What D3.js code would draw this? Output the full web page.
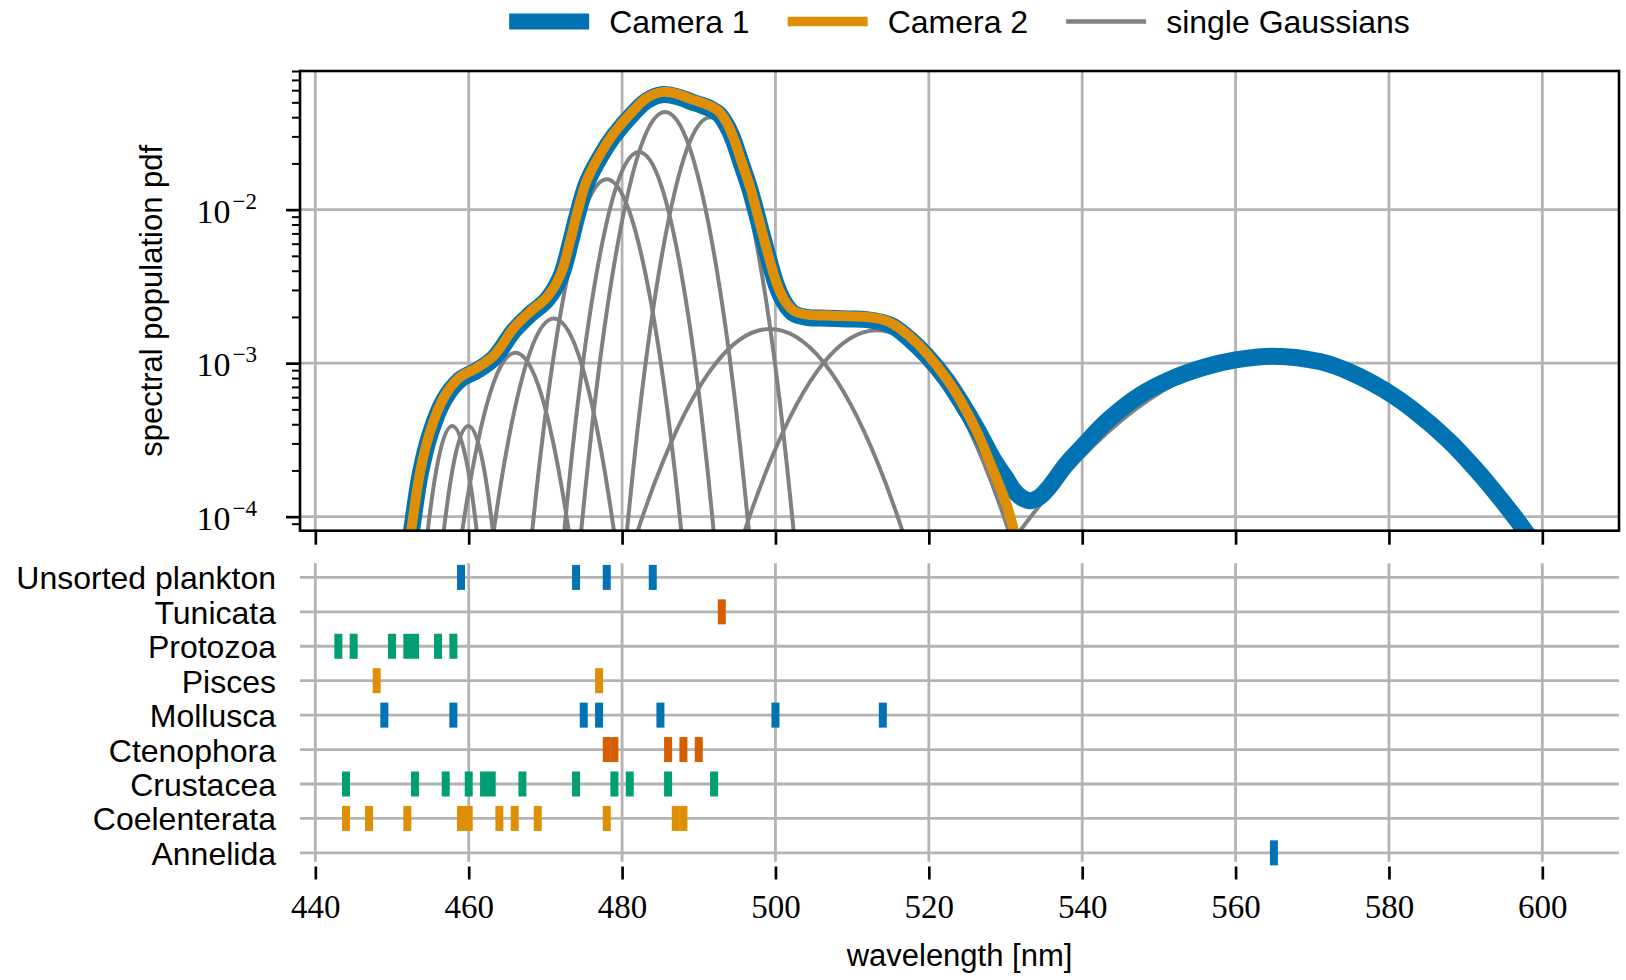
<!DOCTYPE html>
<html>
<head>
<meta charset="utf-8">
<script src="https://cdn.jsdelivr.net/npm/d3@7"></script>
<style>
  body { margin: 0; background: #fff; }
  text { font-family: "Liberation Sans", Arial, Helvetica, sans-serif; fill: #000; }
</style>
</head>
<body>
<script>
// spectral population pdf (wavelength in nm)
var camera1Nm = [451.6, 452.5, 453.7, 455.0, 456.8, 458.9, 461.1, 463.3, 465.9, 468.0, 470.2, 472.0, 473.3, 474.1,
  475.4, 477.2, 478.9, 481.5, 483.3, 485.4, 487.6, 489.0, 490.2, 491.5, 492.6, 493.6, 494.5, 495.6, 496.7, 498.45,
  500.2, 501.3, 502.4, 504.0, 506.7, 509.5, 511.9, 513.8, 515.4, 517.6, 519.7, 522.3, 524.1, 526.3, 528.4, 530.0,
  531.1, 532.2, 533.3, 534.5, 535.8, 537.9, 540.0, 543.4, 547.5, 551.75, 556.0, 560.0, 565.0, 571.1, 575.0, 579.4,
  583.5, 587.7, 591.0, 593.25, 596.85, 598.5, 600.0];
var camera1Pdf = [3.83e-5, 7.82e-5, 1.92e-4, 3.49e-4, 5.79e-4, 7.82e-4, 8.97e-4, 1.08e-3, 1.63e-3, 2.08e-3, 2.59e-3, 3.66e-3, 6.21e-3, 8.97e-3,
  1.49e-2, 2.23e-2, 3.01e-2, 4.27e-2, 5.16e-2, 5.62e-2, 5.37e-2, 5.05e-2, 4.82e-2, 4.55e-2, 4.20e-2, 3.57e-2, 2.85e-2, 1.96e-2, 1.34e-2, 6.35e-3,
  3.15e-3, 2.42e-3, 2.10e-3, 1.99e-3, 1.96e-3, 1.94e-3, 1.92e-3, 1.85e-3, 1.73e-3, 1.42e-3, 1.12e-3, 7.80e-4, 5.69e-4, 3.72e-4, 2.37e-4, 1.80e-4,
  1.48e-4, 1.32e-4, 1.27e-4, 1.35e-4, 1.58e-4, 2.19e-4, 2.85e-4, 4.27e-4, 6.17e-4, 7.94e-4, 9.44e-4, 1.05e-3, 1.11e-3, 1.02e-3, 8.71e-4, 6.68e-4,
  4.81e-4, 3.16e-4, 2.12e-4, 1.57e-4, 9.29e-5, 7.13e-5, 5.55e-5];

var camera2Nm = [451.6, 452.5, 453.7, 455.0, 456.8, 458.9, 461.1, 463.3, 465.9, 468.0, 470.2, 472.0, 473.3, 474.1,
  475.4, 477.2, 478.9, 481.5, 483.3, 485.4, 487.6, 489.0, 490.2, 491.5, 492.6, 493.6, 494.5, 495.6, 496.7, 498.45,
  500.2, 501.3, 502.4, 504.0, 506.7, 509.5, 511.9, 513.8, 515.4, 517.6, 519.7, 522.3, 524.1, 526.3, 528.4, 530.0,
  531.1, 532.0];
var camera2Pdf = [3.98e-5, 8.13e-5, 2.0e-4, 3.63e-4, 6.03e-4, 8.13e-4, 9.33e-4, 1.12e-3, 1.70e-3, 2.16e-3, 2.69e-3, 3.80e-3, 6.46e-3, 9.33e-3,
  1.55e-2, 2.32e-2, 3.13e-2, 4.44e-2, 5.37e-2, 5.85e-2, 5.58e-2, 5.25e-2, 5.01e-2, 4.73e-2, 4.37e-2, 3.72e-2, 2.96e-2, 2.04e-2, 1.40e-2, 6.61e-3,
  3.27e-3, 2.51e-3, 2.19e-3, 2.07e-3, 2.04e-3, 2.02e-3, 2.0e-3, 1.93e-3, 1.79e-3, 1.48e-3, 1.16e-3, 7.94e-4, 5.75e-4, 3.55e-4, 2.0e-4, 1.26e-4,
  8.13e-5, 5.25e-5];

// single gaussian components, [nm, pdf]
var gauss1 = [[450.65, 1.3e-7], [452.45, 4.3e-6], [454.25, 5.3e-5], [456.05, 2.37e-4], [457.85, 3.9e-4], [459.65, 2.37e-4], [461.45, 5.3e-5], [463.25, 4.3e-6], [465.05, 1.3e-7]];
var gauss2 = [[452.75, 1.3e-7], [454.55, 4.3e-6], [456.35, 5.3e-5], [458.15, 2.37e-4], [459.95, 3.9e-4], [461.75, 2.37e-4], [463.55, 5.3e-5], [465.35, 4.3e-6], [467.15, 1.3e-7]];
var gauss3 = [[454.1, 3.9e-7], [457.1, 1.3e-5], [460.1, 1.58e-4], [463.1, 7.1e-4], [466.1, 1.17e-3], [469.1, 7.1e-4], [472.1, 1.58e-4], [475.1, 1.3e-5], [478.1, 3.9e-7]];
var gauss4 = [[458.7, 6.5e-7], [461.8, 2.16e-5], [464.9, 2.64e-4], [468.0, 1.18e-3], [471.1, 1.95e-3], [474.2, 1.18e-3], [477.3, 2.64e-4], [480.4, 2.16e-5], [483.5, 6.5e-7]];
var gauss5 = [[466.0, 5.3e-6], [469.0, 1.75e-4], [472.0, 2.14e-3], [475.0, 9.58e-3], [478.0, 1.58e-2], [481.0, 9.58e-3], [484.0, 2.14e-3], [487.0, 1.75e-4], [490.0, 5.3e-6]];
var gauss6 = [[470.6, 7.9e-6], [473.5, 2.63e-4], [476.4, 3.21e-3], [479.3, 1.44e-2], [482.2, 2.37e-2], [485.1, 1.44e-2], [488.0, 3.21e-3], [490.9, 2.63e-4], [493.8, 7.9e-6]];
var gauss7 = [[473.2, 1.45e-5], [476.3, 4.8e-4], [479.4, 5.85e-3], [482.5, 2.62e-2], [485.6, 4.32e-2], [488.7, 2.62e-2], [491.8, 5.85e-3], [494.9, 4.8e-4], [498.0, 1.45e-5]];
var gauss8 = [[479.1, 1.34e-5], [482.2, 4.44e-4], [485.3, 5.41e-3], [488.4, 2.43e-2], [491.5, 4.0e-2], [494.6, 2.43e-2], [497.7, 5.41e-3], [500.8, 4.44e-4], [503.9, 1.34e-5]];
var gauss9 = [[471.3, 5.6e-7], [478.3, 1.85e-5], [485.3, 2.26e-4], [492.3, 1.01e-3], [499.3, 1.67e-3], [506.3, 1.01e-3], [513.3, 2.26e-4], [520.3, 1.85e-5], [527.3, 5.6e-7]];
var gauss10 = [[485.2, 5.5e-7], [492.2, 1.82e-5], [499.2, 2.22e-4], [506.2, 9.95e-4], [513.2, 1.64e-3], [520.2, 9.95e-4], [527.2, 2.22e-4], [534.2, 1.82e-5], [541.2, 5.5e-7]];
var gauss11 = [[507.0, 3.65e-7], [521.5, 1.21e-5], [536.0, 1.47e-4], [550.5, 6.61e-4], [565.0, 1.09e-3], [579.5, 6.61e-4], [594.0, 1.47e-4], [608.5, 1.21e-5], [623.0, 3.65e-7]];
var gaussians = [gauss1, gauss2, gauss3, gauss4, gauss5, gauss6, gauss7, gauss8, gauss9, gauss10, gauss11];

// observed taxa, bottom row first, with the wavelength [nm] of each event
var categories = ["Annelida", "Coelenterata", "Crustacea", "Ctenophora", "Mollusca", "Pisces", "Protozoa", "Tunicata", "Unsorted plankton"];
var annelida = [565];
var coelenterata = [444, 447, 452, 459, 460, 464, 466, 469, 478, 487, 488];
var crustacea = [444, 453, 457, 460, 462, 463, 467, 474, 479, 481, 486, 492];
var ctenophora = [478, 479, 486, 488, 490];
var mollusca = [449, 458, 475, 477, 485, 500, 514];
var pisces = [448, 477];
var protozoa = [443, 445, 450, 452, 453, 456, 458];
var tunicata = [493];
var unsorted = [459, 474, 478, 484];
var events = [annelida, coelenterata, crustacea, ctenophora, mollusca, pisces, protozoa, tunicata, unsorted];

var xTicks = [440, 460, 480, 500, 520, 540, 560, 580, 600];
var yMajorTicks = [1e-4, 1e-3, 1e-2];
var legendLabels = ["Camera 1", "Camera 2", "single Gaussians"];

var palette = ["#0173b2", "#de8f05", "#029e73", "#d55e00"];
var gridColor = "#b3b3b3";

var width = 1626, height = 980;
var plot = {left: 300, right: 1619, top: 71, bottom: 530.7};
var rug = {top: 563.3, bottom: 861.8, axis: 866.5};

var svg = d3.select("body").append("svg")
    .attr("width", width)
    .attr("height", height)
    .style("display", "block")
    .style("background", "#fff");

var x = d3.scaleLinear().domain([438, 610]).range([plot.left, plot.right]);
var y = d3.scaleLog().domain([8.1e-5, 0.08]).range([plot.bottom, plot.top]);
var yRow = d3.scaleLinear().domain([-0.26, 8.41]).range([rug.bottom, rug.top]);

// ---------- top panel ----------
var grid = svg.append("g").attr("stroke", gridColor).attr("stroke-width", 2.8);
grid.selectAll(".vgrid").data(xTicks).enter().append("line")
    .attr("x1", d => x(d)).attr("x2", d => x(d))
    .attr("y1", plot.top).attr("y2", plot.bottom);
grid.selectAll(".hgrid").data(yMajorTicks).enter().append("line")
    .attr("x1", plot.left).attr("x2", plot.right)
    .attr("y1", d => y(d)).attr("y2", d => y(d));

svg.append("clipPath").attr("id", "clip")
  .append("rect")
    .attr("x", plot.left).attr("y", plot.top)
    .attr("width", plot.right - plot.left).attr("height", plot.bottom - plot.top);

var curves = svg.append("g").attr("clip-path", "url(#clip)");

var line = d3.line()
    .x(d => x(d[0]))
    .y(d => y(d[1]))
    .curve(d3.curveNatural);

var camLine = d3.line()
    .x(d => x(d[0]))
    .y(d => y(d[1]))
    .curve(d3.curveCatmullRom.alpha(0.5));

curves.selectAll(".gauss").data(gaussians).enter().append("path")
    .attr("class", "gauss")
    .attr("d", line)
    .attr("fill", "none")
    .attr("stroke", "#808080")
    .attr("stroke-width", 4);

curves.append("path")
    .attr("d", camLine(d3.zip(camera1Nm, camera1Pdf)))
    .attr("fill", "none")
    .attr("stroke", palette[0])
    .attr("stroke-width", 17)
    .attr("stroke-linejoin", "round");

curves.append("path")
    .attr("d", camLine(d3.zip(camera2Nm, camera2Pdf)))
    .attr("fill", "none")
    .attr("stroke", palette[1])
    .attr("stroke-width", 10)
    .attr("stroke-linejoin", "round");

// axes of the top panel
var xTop = svg.append("g")
    .attr("transform", "translate(0," + plot.bottom + ")")
    .call(d3.axisBottom(x).tickValues(xTicks).tickSize(14).tickFormat(""));
xTop.select(".domain").remove();
xTop.selectAll("line").attr("stroke-width", 2.7);

var minorTicks = y.ticks().filter(d => Math.abs(Math.log10(d) - Math.round(Math.log10(d))) > 1e-6);
var yMinor = svg.append("g")
    .attr("transform", "translate(" + plot.left + ",0)")
    .call(d3.axisLeft(y).tickValues(minorTicks).tickSize(8).tickFormat(""));
yMinor.select(".domain").remove();
yMinor.selectAll("line").attr("stroke-width", 2);

var yMajor = svg.append("g")
    .attr("transform", "translate(" + plot.left + ",0)")
    .call(d3.axisLeft(y).tickValues(yMajorTicks).tickSize(14).tickFormat(""));
yMajor.select(".domain").remove();
yMajor.selectAll("line").attr("stroke-width", 2.7);

var yLab = yMajor.selectAll(".tick").append("text")
    .attr("x", -43)
    .attr("y", 12.5)
    .attr("text-anchor", "end")
    .style("font-family", "'Liberation Serif', 'Times New Roman', serif")
    .style("font-size", "34px");
yLab.append("tspan").text("10");
yLab.append("tspan")
    .attr("dx", 2)
    .attr("dy", -14)
    .style("font-size", "23px")
    .text(d => "\u2212" + Math.round(-Math.log10(d)));

svg.append("rect")
    .attr("x", plot.left).attr("y", plot.top)
    .attr("width", plot.right - plot.left).attr("height", plot.bottom - plot.top)
    .attr("fill", "none")
    .attr("stroke", "#000")
    .attr("stroke-width", 2.6);

svg.append("text")
    .attr("transform", "translate(162," + ((plot.top + plot.bottom) / 2) + ")rotate(-90)")
    .attr("text-anchor", "middle")
    .style("font-size", "31px")
    .text("spectral population pdf");

// ---------- legend ----------
var legendStyles = [
  {color: palette[0], width: 16},
  {color: palette[1], width: 9.5},
  {color: "#808080", width: 4.5}
];
var legend = svg.append("g").attr("transform", "translate(0,21.5)");
var handleLen = 80, handleGap = 20, itemGap = 38;
var cursor = 0;
var items = legend.selectAll(".item").data(legendLabels).enter().append("g").attr("class", "item");
items.append("line")
    .attr("x1", 0).attr("x2", handleLen)
    .attr("stroke", (d, i) => legendStyles[i].color)
    .attr("stroke-width", (d, i) => legendStyles[i].width);
items.append("text")
    .attr("x", handleLen + handleGap)
    .attr("dy", "0.36em")
    .style("font-size", "32px")
    .text(d => d);
items.each(function() {
  var g = d3.select(this);
  g.attr("transform", "translate(" + cursor + ",0)");
  cursor += handleLen + handleGap + g.select("text").node().getComputedTextLength() + itemGap;
});
cursor -= itemGap;
legend.attr("transform", "translate(" + ((plot.left + plot.right) / 2 - cursor / 2) + ",21.5)");

// ---------- bottom panel ----------
var rugGrid = svg.append("g").attr("stroke", gridColor).attr("stroke-width", 2.8);
rugGrid.selectAll(".vgrid").data(xTicks).enter().append("line")
    .attr("x1", d => x(d)).attr("x2", d => x(d))
    .attr("y1", rug.top).attr("y2", rug.bottom);
rugGrid.selectAll(".hgrid").data(categories).enter().append("line")
    .attr("x1", plot.left).attr("x2", plot.right)
    .attr("y1", (d, i) => yRow(i)).attr("y2", (d, i) => yRow(i));

var rows = svg.selectAll(".row").data(events).enter().append("g")
    .attr("class", "row")
    .attr("fill", (d, i) => palette[i % palette.length]);
rows.selectAll("rect").data((d, i) => d.map(v => ({nm: v, row: i}))).enter().append("rect")
    .attr("x", d => x(d.nm) - 4)
    .attr("width", 8)
    .attr("y", d => yRow(d.row) - 12.5)
    .attr("height", 25);

var catAxis = svg.append("g")
    .attr("transform", "translate(" + plot.left + ",0)")
    .call(d3.axisLeft(yRow).tickValues(d3.range(categories.length)).tickFormat(i => categories[i]).tickSize(0).tickPadding(24));
catAxis.select(".domain").remove();
catAxis.selectAll("text")
    .attr("dy", "0.36em")
    .style("font-family", "'Liberation Sans', Arial, sans-serif")
    .style("font-size", "32px")
    .attr("fill", "#000");

var xBottom = svg.append("g")
    .attr("transform", "translate(0," + rug.axis + ")")
    .call(d3.axisBottom(x).tickValues(xTicks).tickSize(13).tickPadding(15));
xBottom.select(".domain").remove();
xBottom.selectAll("line").attr("stroke-width", 2.7);
xBottom.selectAll("text")
    .style("font-family", "'Liberation Serif', 'Times New Roman', serif")
    .style("font-size", "33px")
    .attr("fill", "#000");

svg.append("text")
    .attr("x", (plot.left + plot.right) / 2)
    .attr("y", 966)
    .attr("text-anchor", "middle")
    .style("font-size", "31px")
    .text("wavelength [nm]");
</script>
</body>
</html>
